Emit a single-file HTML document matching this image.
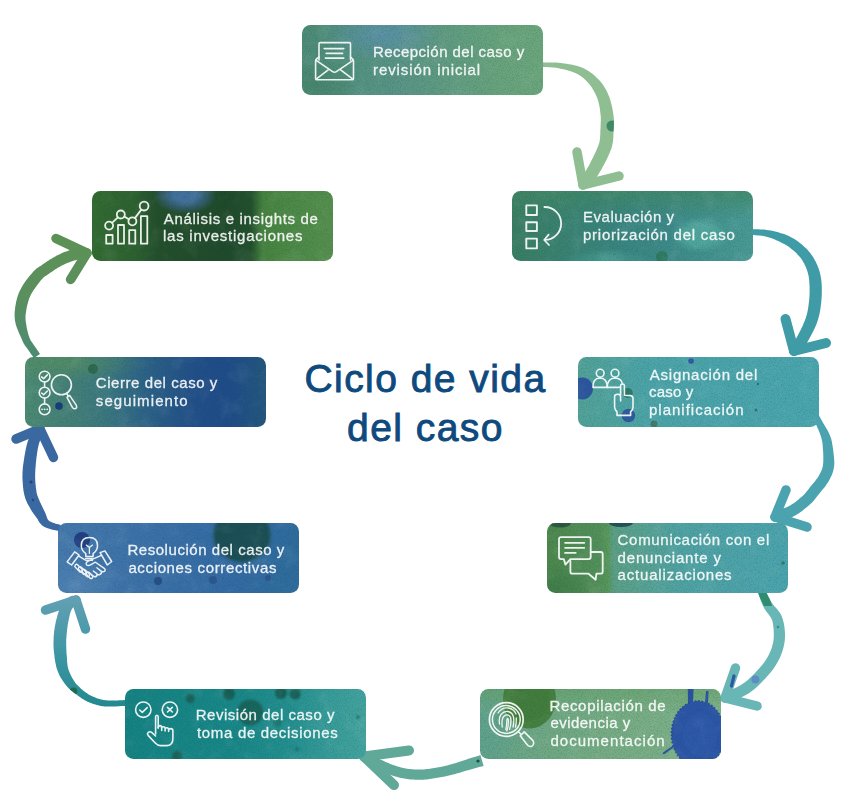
<!DOCTYPE html>
<html><head><meta charset="utf-8">
<style>
html,body{margin:0;padding:0;background:#fff;}
body{width:850px;height:802px;position:relative;overflow:hidden;font-family:"Liberation Sans",sans-serif;}
.box{position:absolute;width:241px;height:70px;border-radius:8.5px;overflow:hidden;}
.txt{position:absolute;z-index:3;left:71px;top:0;height:70px;display:flex;align-items:center;color:#fff;opacity:0.9;font-size:15px;line-height:17.6px;letter-spacing:0.45px;white-space:nowrap;-webkit-text-stroke:0.3px #fff;}
.ic{position:absolute;left:0;top:0;}
svg.bg{position:absolute;left:0;top:0;}
#title{position:absolute;left:0;width:851px;top:354px;text-align:center;color:#0e4a7d;font-size:39px;line-height:49px;letter-spacing:1.45px;-webkit-text-stroke:0.9px #0e4a7d;}

.b5 .txt{left:69.6px;top:-1px;}
.b7 .txt{left:69.6px;top:0.5px;}
.b4 .txt{left:70.4px;top:-0.5px;}
.b1 .txt{top:0.7px;}
.b9 .txt{top:1.4px;}
.b1{background:
 radial-gradient(ellipse 60px 26px at 80px 10px, rgba(92,145,172,.85), rgba(92,145,172,0)),
 radial-gradient(ellipse 45px 30px at 15px 62px, rgba(68,130,104,.6), rgba(68,130,104,0)),
 linear-gradient(90deg,#4d8b75 0%,#53917f 22%,#5a9585 42%,#619c80 62%,#68a37c 82%,#6ca67b 100%);}
.b2{background:
 radial-gradient(ellipse 30px 18px at 188px 44px, rgba(80,166,156,.95) 55%, rgba(80,166,156,0)),
 radial-gradient(ellipse 45px 10px at 95px 68px, rgba(72,160,148,.8), rgba(72,160,148,0)),
 linear-gradient(180deg, rgba(66,136,100,.75) 0%, rgba(66,136,100,0) 40%),
 linear-gradient(90deg,#3a7d62 0%,#3a8270 20%,#3a8580 45%,#3d8a88 65%,#4a9a95 100%);}
.b3{background:
 linear-gradient(90deg,#52a297 0%,#4ca4a8 30%,#4aa5ae 100%);}
.b4{background:
 radial-gradient(ellipse 40px 25px at 10px 65px, rgba(60,120,70,.7), rgba(60,120,70,0)),
 linear-gradient(90deg,#4d884c 0%,#53905a 22%,#579758 25%,#5b9f86 28%,#58a293 40%,#50a2a2 55%,#4ea3a8 75%,#4ca4ad 100%);}
.b5{background:
 radial-gradient(ellipse 30px 40px at 8px 45px, rgba(95,162,140,.95), rgba(95,162,140,0)),
 linear-gradient(180deg, rgba(100,160,105,.6) 0%, rgba(100,160,105,0) 35%),
 linear-gradient(90deg,#64a38a 0%,#70a882 30%,#78ad84 60%,#7fb18a 100%);}
.b6{background:
 linear-gradient(90deg,#168383 0%,#198787 45%,#25908f 70%,#389c98 85%,#44a39e 100%);}
.b7{background:
 radial-gradient(ellipse 40px 25px at 20px 62px, rgba(90,140,185,.6), rgba(90,140,185,0)),
 linear-gradient(90deg,#4679ad 0%,#3c71a8 35%,#346ba4 70%,#2e6c9c 100%);}
.b8{background:
 radial-gradient(ellipse 80px 20px at 40px 5px, rgba(88,145,95,.7), rgba(88,145,95,0)),
 linear-gradient(90deg,#4c8a72 0%,#447f78 20%,#3a7680 35%,#2d6286 50%,#224f88 70%,#1f4c88 85%,#24577d 100%);}
.b9{background:
 radial-gradient(ellipse 32px 19px at 93px 4px, rgba(66,112,155,1) 35%, rgba(60,100,140,.6) 70%, rgba(60,100,140,0) 100%),
 linear-gradient(90deg,#336b30 0%,#2d612f 18%,#244f2b 27%,#204a2a 55%,#23502c 66%,#47833f 71%,#4e8a47 85%,#568f4d 100%);}
svg.ov{position:absolute;left:0;top:0;}
</style></head><body>

<svg class="ov" width="850" height="802" viewBox="0 0 850 802">
<!--ARROWS-->
<defs><linearGradient id="g6" x1="0" y1="705" x2="0" y2="598" gradientUnits="userSpaceOnUse"><stop offset="0" stop-color="#23898f"/><stop offset="0.45" stop-color="#3c95a3"/><stop offset="1" stop-color="#62a0b3"/></linearGradient><linearGradient id="g8" x1="0" y1="358" x2="0" y2="240" gradientUnits="userSpaceOnUse"><stop offset="0" stop-color="#4b8a74"/><stop offset="0.5" stop-color="#5a8f5f"/><stop offset="1" stop-color="#5c9156"/></linearGradient></defs>
<path d="M540.9,66.7 542.8,66.9 544.7,67.0 546.6,67.1 548.5,67.2 550.3,67.3 552.2,67.5 554.0,67.6 555.9,67.8 557.7,68.1 559.6,68.5 561.5,68.9 563.5,69.3 565.5,69.8 567.5,70.3 569.5,70.9 571.5,71.5 573.4,72.2 575.2,72.9 576.8,73.7 578.3,74.5 579.8,75.4 581.1,76.3 582.4,77.3 583.7,78.3 584.9,79.4 586.0,80.5 587.1,81.7 588.2,82.8 589.2,84.1 590.2,85.3 591.2,86.6 592.0,87.8 592.8,89.2 593.6,90.5 594.4,91.9 595.1,93.3 595.8,94.7 596.4,96.2 597.0,97.6 597.6,99.1 598.1,100.6 598.5,102.2 598.9,103.8 599.3,105.5 599.6,107.2 599.9,109.0 600.1,110.7 600.3,112.5 600.5,114.2 600.7,115.7 600.8,117.2 600.8,118.6 600.8,119.9 600.8,121.2 600.7,122.6 600.7,123.9 600.6,125.3 600.6,126.7 600.5,128.2 600.4,129.7 600.3,131.3 600.3,132.8 600.3,134.2 600.2,135.6 600.1,136.9 600.0,138.2 599.9,139.5 599.7,140.7 599.5,142.0 599.1,143.2 598.7,144.5 598.2,146.0 597.6,147.5 596.9,149.1 596.2,150.8 595.4,152.5 594.6,154.2 593.8,155.8 593.0,157.5 592.2,159.1 591.5,160.6 590.7,162.1 590.0,163.5 589.2,165.0 588.4,166.4 587.6,167.8 586.9,169.1 586.1,170.3 585.4,171.5 584.7,172.6 584.1,173.6 583.6,174.4 583.1,175.2 582.6,175.9 582.0,176.5 581.5,177.2 581.0,177.9 580.4,178.7 579.8,179.5 579.2,180.3 588.8,187.7 589.4,187.0 590.0,186.3 590.5,185.6 591.1,184.9 591.7,184.2 592.4,183.4 593.0,182.5 593.8,181.6 594.5,180.5 595.3,179.4 596.0,178.2 596.8,176.9 597.7,175.6 598.5,174.2 599.4,172.7 600.3,171.2 601.2,169.7 602.1,168.1 602.9,166.5 603.8,164.9 604.6,163.3 605.5,161.7 606.4,160.0 607.3,158.2 608.1,156.3 609.0,154.5 609.8,152.6 610.6,150.6 611.3,148.7 611.9,146.8 612.3,144.9 612.7,143.0 613.0,141.2 613.2,139.5 613.3,137.8 613.4,136.2 613.4,134.7 613.5,133.2 613.5,131.7 613.6,130.3 613.7,128.9 613.8,127.4 613.8,125.9 613.9,124.4 613.9,122.8 613.9,121.2 613.9,119.5 613.7,117.8 613.6,116.1 613.3,114.3 613.1,112.5 612.7,110.6 612.4,108.7 612.0,106.8 611.5,104.8 611.0,102.8 610.5,100.7 609.9,98.8 609.2,96.8 608.4,94.9 607.6,93.1 606.8,91.3 605.9,89.6 604.9,87.9 603.9,86.2 602.8,84.6 601.6,83.1 600.4,81.5 599.1,80.1 597.8,78.7 596.4,77.4 595.0,76.1 593.6,74.8 592.1,73.6 590.5,72.4 588.9,71.3 587.2,70.2 585.4,69.3 583.6,68.3 581.7,67.5 579.7,66.8 577.6,66.1 575.4,65.6 573.3,65.0 571.1,64.6 568.9,64.2 566.7,63.8 564.6,63.5 562.5,63.2 560.4,62.9 558.4,62.7 556.4,62.6 554.4,62.5 552.5,62.4 550.5,62.4 548.6,62.4 546.7,62.4 544.9,62.4 543.0,62.3 541.1,62.3Z" fill="#8fbe92"/>
<clipPath id="ac0"><path d="M540.9,66.7 542.8,66.9 544.7,67.0 546.6,67.1 548.5,67.2 550.3,67.3 552.2,67.5 554.0,67.6 555.9,67.8 557.7,68.1 559.6,68.5 561.5,68.9 563.5,69.3 565.5,69.8 567.5,70.3 569.5,70.9 571.5,71.5 573.4,72.2 575.2,72.9 576.8,73.7 578.3,74.5 579.8,75.4 581.1,76.3 582.4,77.3 583.7,78.3 584.9,79.4 586.0,80.5 587.1,81.7 588.2,82.8 589.2,84.1 590.2,85.3 591.2,86.6 592.0,87.8 592.8,89.2 593.6,90.5 594.4,91.9 595.1,93.3 595.8,94.7 596.4,96.2 597.0,97.6 597.6,99.1 598.1,100.6 598.5,102.2 598.9,103.8 599.3,105.5 599.6,107.2 599.9,109.0 600.1,110.7 600.3,112.5 600.5,114.2 600.7,115.7 600.8,117.2 600.8,118.6 600.8,119.9 600.8,121.2 600.7,122.6 600.7,123.9 600.6,125.3 600.6,126.7 600.5,128.2 600.4,129.7 600.3,131.3 600.3,132.8 600.3,134.2 600.2,135.6 600.1,136.9 600.0,138.2 599.9,139.5 599.7,140.7 599.5,142.0 599.1,143.2 598.7,144.5 598.2,146.0 597.6,147.5 596.9,149.1 596.2,150.8 595.4,152.5 594.6,154.2 593.8,155.8 593.0,157.5 592.2,159.1 591.5,160.6 590.7,162.1 590.0,163.5 589.2,165.0 588.4,166.4 587.6,167.8 586.9,169.1 586.1,170.3 585.4,171.5 584.7,172.6 584.1,173.6 583.6,174.4 583.1,175.2 582.6,175.9 582.0,176.5 581.5,177.2 581.0,177.9 580.4,178.7 579.8,179.5 579.2,180.3 588.8,187.7 589.4,187.0 590.0,186.3 590.5,185.6 591.1,184.9 591.7,184.2 592.4,183.4 593.0,182.5 593.8,181.6 594.5,180.5 595.3,179.4 596.0,178.2 596.8,176.9 597.7,175.6 598.5,174.2 599.4,172.7 600.3,171.2 601.2,169.7 602.1,168.1 602.9,166.5 603.8,164.9 604.6,163.3 605.5,161.7 606.4,160.0 607.3,158.2 608.1,156.3 609.0,154.5 609.8,152.6 610.6,150.6 611.3,148.7 611.9,146.8 612.3,144.9 612.7,143.0 613.0,141.2 613.2,139.5 613.3,137.8 613.4,136.2 613.4,134.7 613.5,133.2 613.5,131.7 613.6,130.3 613.7,128.9 613.8,127.4 613.8,125.9 613.9,124.4 613.9,122.8 613.9,121.2 613.9,119.5 613.7,117.8 613.6,116.1 613.3,114.3 613.1,112.5 612.7,110.6 612.4,108.7 612.0,106.8 611.5,104.8 611.0,102.8 610.5,100.7 609.9,98.8 609.2,96.8 608.4,94.9 607.6,93.1 606.8,91.3 605.9,89.6 604.9,87.9 603.9,86.2 602.8,84.6 601.6,83.1 600.4,81.5 599.1,80.1 597.8,78.7 596.4,77.4 595.0,76.1 593.6,74.8 592.1,73.6 590.5,72.4 588.9,71.3 587.2,70.2 585.4,69.3 583.6,68.3 581.7,67.5 579.7,66.8 577.6,66.1 575.4,65.6 573.3,65.0 571.1,64.6 568.9,64.2 566.7,63.8 564.6,63.5 562.5,63.2 560.4,62.9 558.4,62.7 556.4,62.6 554.4,62.5 552.5,62.4 550.5,62.4 548.6,62.4 546.7,62.4 544.9,62.4 543.0,62.3 541.1,62.3Z"/></clipPath><g clip-path="url(#ac0)"><circle cx="612" cy="126" r="5.5" fill="#3f8a66"/><ellipse cx="596" cy="187" rx="9" ry="2.5" fill="#3f7d5c" transform="rotate(-12 596 187)"/></g>
<path d="M583,185 L577,152" stroke="#8fbe92" stroke-width="9.5" stroke-linecap="round" fill="none"/>
<path d="M583,185 L619,176" stroke="#8fbe92" stroke-width="9.5" stroke-linecap="round" fill="none"/>
<path d="M749.7,234.4 751.7,234.7 753.8,234.9 755.8,235.2 757.8,235.4 759.7,235.6 761.7,235.8 763.6,236.1 765.5,236.5 767.3,236.9 769.1,237.5 771.0,238.1 772.9,238.8 774.9,239.6 776.8,240.4 778.8,241.3 780.6,242.2 782.5,243.2 784.2,244.1 786.0,245.1 787.6,246.1 789.1,247.1 790.6,248.2 792.1,249.4 793.5,250.6 794.9,251.8 796.3,253.1 797.5,254.4 798.7,255.7 799.9,257.1 800.9,258.3 801.8,259.6 802.7,260.9 803.4,262.2 804.2,263.5 804.8,264.9 805.5,266.3 806.1,267.7 806.6,269.1 807.1,270.5 807.6,271.9 807.9,273.2 808.3,274.5 808.5,275.7 808.8,277.0 808.9,278.3 809.1,279.6 809.2,280.9 809.3,282.3 809.4,283.8 809.5,285.3 809.6,286.9 809.6,288.5 809.6,290.2 809.6,291.9 809.6,293.7 809.5,295.4 809.4,297.2 809.3,298.9 809.1,300.6 808.9,302.3 808.7,304.0 808.5,305.6 808.3,307.2 808.0,308.8 807.8,310.3 807.4,311.9 807.1,313.4 806.7,314.9 806.2,316.5 805.8,318.0 805.2,319.6 804.6,321.3 803.8,323.1 803.0,324.9 802.2,326.7 801.3,328.5 800.5,330.3 799.6,332.0 798.7,333.7 797.9,335.2 797.2,336.5 796.5,337.7 795.8,338.9 795.0,340.0 794.3,341.1 793.6,342.2 792.8,343.3 792.0,344.4 791.2,345.6 790.4,346.9 799.6,353.1 800.4,352.0 801.2,351.0 802.0,349.9 802.8,348.8 803.6,347.7 804.5,346.5 805.4,345.2 806.3,343.8 807.2,342.4 808.1,340.8 809.0,339.2 809.9,337.5 810.9,335.7 811.9,333.8 812.9,331.9 813.8,329.9 814.8,327.9 815.7,325.9 816.5,323.9 817.2,322.0 817.9,320.1 818.4,318.2 818.9,316.3 819.4,314.5 819.7,312.7 820.1,310.9 820.4,309.1 820.6,307.3 820.8,305.5 821.1,303.7 821.3,301.8 821.4,299.9 821.6,298.0 821.7,296.0 821.8,294.1 821.8,292.1 821.8,290.2 821.8,288.3 821.8,286.4 821.7,284.7 821.6,282.9 821.4,281.3 821.2,279.6 821.0,278.0 820.7,276.4 820.4,274.7 820.0,273.1 819.6,271.4 819.0,269.8 818.4,268.1 817.8,266.5 817.1,264.8 816.4,263.2 815.6,261.5 814.7,259.9 813.8,258.2 812.7,256.5 811.6,254.9 810.4,253.2 809.1,251.7 807.7,250.1 806.3,248.6 804.8,247.2 803.2,245.7 801.6,244.3 799.8,242.9 798.1,241.6 796.2,240.3 794.4,239.1 792.4,237.9 790.5,236.9 788.4,235.8 786.3,234.9 784.1,234.1 781.9,233.4 779.6,232.7 777.4,232.1 775.2,231.5 773.0,231.0 770.9,230.5 768.7,230.2 766.5,229.9 764.4,229.6 762.3,229.5 760.3,229.4 758.2,229.3 756.2,229.3 754.2,229.2 752.3,229.1 750.3,229.0Z" fill="#3f9ba6"/>
<path d="M794,351 L785.5,319" stroke="#3f9ba6" stroke-width="10" stroke-linecap="round" fill="none"/>
<path d="M794,351 L826,343" stroke="#3f9ba6" stroke-width="10" stroke-linecap="round" fill="none"/>
<path d="M812.2,416.5 812.6,417.5 813.1,418.5 813.6,419.6 814.1,420.6 814.6,421.6 815.1,422.6 815.6,423.6 816.0,424.6 816.5,425.6 817.0,426.6 817.4,427.7 817.9,428.7 818.4,429.8 818.8,430.8 819.2,431.8 819.6,432.8 820.0,433.7 820.3,434.7 820.6,435.6 820.9,436.5 821.2,437.5 821.4,438.3 821.7,439.1 821.8,439.9 822.0,440.6 822.2,441.3 822.3,442.2 822.4,443.1 822.6,444.3 822.7,445.6 822.8,447.2 822.9,449.0 823.1,451.0 823.2,453.1 823.3,455.2 823.3,457.3 823.3,459.4 823.3,461.3 823.2,463.0 823.0,464.4 822.9,465.7 822.6,466.9 822.4,468.0 822.1,469.0 821.7,470.0 821.3,471.0 820.8,472.0 820.3,473.0 819.7,474.1 819.1,475.3 818.5,476.3 817.8,477.4 817.1,478.5 816.2,479.6 815.4,480.7 814.4,481.9 813.5,483.0 812.5,484.2 811.6,485.3 810.6,486.5 809.7,487.6 808.9,488.7 808.1,489.7 807.4,490.7 806.6,491.6 805.9,492.5 805.2,493.3 804.4,494.2 803.6,495.0 802.7,495.9 801.7,496.8 800.5,497.8 799.3,498.8 798.0,499.9 796.7,500.9 795.4,501.9 794.1,502.9 792.8,503.7 791.6,504.5 790.6,505.2 789.6,505.8 788.6,506.3 787.7,506.8 786.8,507.2 785.8,507.6 784.9,507.9 784.0,508.3 783.0,508.6 782.1,508.9 781.2,509.2 780.5,509.4 780.0,509.6 779.4,509.7 778.9,509.8 778.3,509.9 777.7,510.0 777.1,510.1 776.4,510.2 775.7,510.4 774.9,510.5 777.1,521.5 777.7,521.4 778.3,521.3 778.9,521.2 779.5,521.1 780.2,521.0 781.0,520.8 781.9,520.6 782.8,520.4 783.8,520.1 784.8,519.8 785.7,519.5 786.6,519.2 787.7,518.8 788.8,518.4 789.9,518.0 791.2,517.5 792.4,516.9 793.7,516.3 795.1,515.6 796.4,514.8 797.8,513.9 799.2,513.0 800.6,512.0 802.1,510.9 803.5,509.8 805.0,508.6 806.4,507.5 807.8,506.3 809.1,505.2 810.3,504.1 811.5,503.0 812.6,501.9 813.6,500.8 814.5,499.7 815.4,498.6 816.2,497.6 817.0,496.6 817.8,495.6 818.6,494.5 819.4,493.5 820.2,492.4 821.2,491.3 822.1,490.1 823.1,488.9 824.1,487.7 825.2,486.4 826.2,485.0 827.1,483.6 828.1,482.2 828.9,480.7 829.6,479.4 830.3,478.1 830.9,476.8 831.6,475.5 832.2,474.0 832.7,472.5 833.2,470.9 833.6,469.2 833.9,467.5 834.2,465.6 834.3,463.5 834.3,461.3 834.1,459.0 834.0,456.7 833.7,454.4 833.4,452.2 833.2,450.0 832.9,447.9 832.6,446.1 832.3,444.4 832.1,442.9 831.8,441.6 831.5,440.3 831.3,439.2 831.0,438.2 830.6,437.2 830.3,436.2 829.9,435.3 829.5,434.4 829.1,433.5 828.6,432.4 828.0,431.3 827.5,430.3 826.9,429.2 826.3,428.2 825.7,427.2 825.1,426.2 824.5,425.3 824.0,424.3 823.4,423.4 822.9,422.4 822.3,421.4 821.8,420.4 821.2,419.4 820.7,418.4 820.1,417.4 819.5,416.4 819.0,415.5 818.4,414.5 817.8,413.5Z" fill="#4aa3af"/>
<path d="M775,517 L786,490" stroke="#4aa3af" stroke-width="9.5" stroke-linecap="round" fill="none"/>
<path d="M775,517 L807,527" stroke="#4aa3af" stroke-width="9.5" stroke-linecap="round" fill="none"/>
<path d="M757.6,591.5 758.2,593.0 758.7,594.5 759.2,596.1 759.8,597.7 760.3,599.2 760.9,600.9 761.5,602.5 762.2,604.1 762.9,605.7 763.7,607.3 764.6,609.0 765.7,610.5 766.7,611.9 767.8,613.3 768.7,614.5 769.6,615.7 770.4,616.8 771.1,617.9 771.6,618.9 772.0,619.9 772.4,621.1 772.7,622.5 773.0,624.0 773.2,625.5 773.4,627.1 773.6,628.7 773.7,630.3 773.7,632.0 773.8,633.5 773.8,635.0 773.8,636.4 773.7,637.8 773.6,639.1 773.5,640.4 773.3,641.7 773.0,643.0 772.7,644.3 772.4,645.5 772.0,646.9 771.6,648.2 771.1,649.5 770.6,650.9 770.0,652.2 769.4,653.6 768.7,655.0 768.0,656.3 767.2,657.7 766.4,659.0 765.5,660.4 764.6,661.8 763.6,663.2 762.5,664.6 761.3,666.1 760.0,667.6 758.6,669.1 757.3,670.6 755.9,672.1 754.6,673.5 753.3,674.8 752.1,676.0 750.9,677.1 749.9,678.1 748.8,679.1 747.9,679.9 746.9,680.7 745.9,681.5 745.0,682.2 744.0,682.9 743.0,683.6 742.0,684.3 740.9,684.9 739.9,685.6 738.7,686.2 737.5,686.8 736.3,687.4 735.1,687.9 734.0,688.4 732.8,689.0 731.7,689.4 730.7,689.9 729.9,690.2 729.2,690.5 728.6,690.7 728.0,691.0 727.5,691.1 726.9,691.3 726.3,691.5 725.6,691.7 724.9,692.0 724.2,692.2 727.8,702.8 728.5,702.6 729.0,702.4 729.6,702.2 730.2,702.0 730.9,701.8 731.7,701.5 732.5,701.3 733.3,700.9 734.3,700.6 735.3,700.1 736.3,699.7 737.4,699.2 738.6,698.7 739.8,698.1 741.2,697.5 742.5,696.8 743.9,696.1 745.3,695.3 746.7,694.5 748.0,693.7 749.3,692.9 750.5,692.1 751.6,691.2 752.8,690.3 754.0,689.4 755.1,688.4 756.3,687.4 757.5,686.3 758.7,685.2 759.9,684.0 761.2,682.7 762.6,681.3 764.0,679.8 765.5,678.2 767.0,676.6 768.4,675.0 769.9,673.3 771.3,671.6 772.6,669.9 773.8,668.2 774.9,666.6 775.9,665.0 776.9,663.3 777.8,661.7 778.7,660.0 779.5,658.4 780.3,656.8 781.0,655.1 781.6,653.5 782.2,651.8 782.7,650.2 783.2,648.5 783.6,646.9 784.0,645.2 784.3,643.6 784.6,641.9 784.8,640.2 784.9,638.5 785.0,636.7 785.0,635.0 785.0,633.2 784.9,631.4 784.7,629.5 784.5,627.6 784.2,625.6 783.9,623.7 783.4,621.8 782.9,619.8 782.3,618.0 781.6,616.1 780.7,614.2 779.7,612.5 778.5,610.9 777.4,609.5 776.3,608.2 775.2,607.0 774.2,605.9 773.3,604.8 772.5,603.8 771.7,602.7 771.0,601.5 770.2,600.2 769.5,598.8 768.8,597.4 768.1,596.0 767.3,594.5 766.6,593.0 765.9,591.5 765.1,590.0 764.4,588.5Z" fill="#69b6b7"/>
<clipPath id="ac3"><path d="M757.6,591.5 758.2,593.0 758.7,594.5 759.2,596.1 759.8,597.7 760.3,599.2 760.9,600.9 761.5,602.5 762.2,604.1 762.9,605.7 763.7,607.3 764.6,609.0 765.7,610.5 766.7,611.9 767.8,613.3 768.7,614.5 769.6,615.7 770.4,616.8 771.1,617.9 771.6,618.9 772.0,619.9 772.4,621.1 772.7,622.5 773.0,624.0 773.2,625.5 773.4,627.1 773.6,628.7 773.7,630.3 773.7,632.0 773.8,633.5 773.8,635.0 773.8,636.4 773.7,637.8 773.6,639.1 773.5,640.4 773.3,641.7 773.0,643.0 772.7,644.3 772.4,645.5 772.0,646.9 771.6,648.2 771.1,649.5 770.6,650.9 770.0,652.2 769.4,653.6 768.7,655.0 768.0,656.3 767.2,657.7 766.4,659.0 765.5,660.4 764.6,661.8 763.6,663.2 762.5,664.6 761.3,666.1 760.0,667.6 758.6,669.1 757.3,670.6 755.9,672.1 754.6,673.5 753.3,674.8 752.1,676.0 750.9,677.1 749.9,678.1 748.8,679.1 747.9,679.9 746.9,680.7 745.9,681.5 745.0,682.2 744.0,682.9 743.0,683.6 742.0,684.3 740.9,684.9 739.9,685.6 738.7,686.2 737.5,686.8 736.3,687.4 735.1,687.9 734.0,688.4 732.8,689.0 731.7,689.4 730.7,689.9 729.9,690.2 729.2,690.5 728.6,690.7 728.0,691.0 727.5,691.1 726.9,691.3 726.3,691.5 725.6,691.7 724.9,692.0 724.2,692.2 727.8,702.8 728.5,702.6 729.0,702.4 729.6,702.2 730.2,702.0 730.9,701.8 731.7,701.5 732.5,701.3 733.3,700.9 734.3,700.6 735.3,700.1 736.3,699.7 737.4,699.2 738.6,698.7 739.8,698.1 741.2,697.5 742.5,696.8 743.9,696.1 745.3,695.3 746.7,694.5 748.0,693.7 749.3,692.9 750.5,692.1 751.6,691.2 752.8,690.3 754.0,689.4 755.1,688.4 756.3,687.4 757.5,686.3 758.7,685.2 759.9,684.0 761.2,682.7 762.6,681.3 764.0,679.8 765.5,678.2 767.0,676.6 768.4,675.0 769.9,673.3 771.3,671.6 772.6,669.9 773.8,668.2 774.9,666.6 775.9,665.0 776.9,663.3 777.8,661.7 778.7,660.0 779.5,658.4 780.3,656.8 781.0,655.1 781.6,653.5 782.2,651.8 782.7,650.2 783.2,648.5 783.6,646.9 784.0,645.2 784.3,643.6 784.6,641.9 784.8,640.2 784.9,638.5 785.0,636.7 785.0,635.0 785.0,633.2 784.9,631.4 784.7,629.5 784.5,627.6 784.2,625.6 783.9,623.7 783.4,621.8 782.9,619.8 782.3,618.0 781.6,616.1 780.7,614.2 779.7,612.5 778.5,610.9 777.4,609.5 776.3,608.2 775.2,607.0 774.2,605.9 773.3,604.8 772.5,603.8 771.7,602.7 771.0,601.5 770.2,600.2 769.5,598.8 768.8,597.4 768.1,596.0 767.3,594.5 766.6,593.0 765.9,591.5 765.1,590.0 764.4,588.5Z"/></clipPath><g clip-path="url(#ac3)"><path d="M756,590 L768,590 L772,606 L764,606 Z" fill="#2f8c70"/><circle cx="755.4" cy="679.6" r="4" fill="#5b8fc4"/><circle cx="778" cy="627" r="1.3" fill="#3a8a90"/></g>
<path d="M725,698 L735.5,668" stroke="#69b6b7" stroke-width="9.5" stroke-linecap="round" fill="none"/>
<path d="M725,698 L757,706" stroke="#69b6b7" stroke-width="9.5" stroke-linecap="round" fill="none"/>
<path d="M480.4,755.1 478.7,755.7 477.0,756.2 475.3,756.7 473.6,757.3 471.8,757.8 470.1,758.3 468.4,758.8 466.7,759.4 465.1,759.9 463.5,760.4 461.9,760.9 460.3,761.4 458.8,761.9 457.3,762.4 455.8,762.9 454.4,763.4 453.0,763.8 451.6,764.2 450.2,764.6 448.7,765.0 447.3,765.4 445.9,765.7 444.4,766.1 443.0,766.4 441.5,766.7 440.1,767.0 438.6,767.2 437.1,767.5 435.7,767.7 434.2,768.0 432.7,768.2 431.2,768.4 429.8,768.7 428.3,768.9 426.9,769.1 425.4,769.2 424.0,769.4 422.6,769.5 421.3,769.6 419.9,769.6 418.5,769.6 417.1,769.6 415.7,769.5 414.2,769.5 412.8,769.3 411.4,769.2 409.9,769.1 408.6,768.9 407.2,768.7 405.8,768.5 404.6,768.2 403.3,768.0 402.1,767.7 401.0,767.4 399.8,767.1 398.6,766.8 397.4,766.4 396.2,766.1 395.0,765.6 393.7,765.2 392.4,764.7 391.1,764.2 389.8,763.7 388.4,763.1 387.0,762.5 385.6,761.9 384.2,761.2 382.8,760.6 381.5,760.0 380.2,759.4 378.9,758.8 377.7,758.2 376.5,757.6 375.4,757.0 374.2,756.5 373.0,755.9 371.9,755.3 370.7,754.7 369.5,754.1 368.3,753.4 363.7,762.6 364.9,763.1 366.0,763.7 367.2,764.3 368.4,764.9 369.6,765.5 370.8,766.2 372.0,766.8 373.2,767.4 374.5,768.0 375.8,768.6 377.2,769.2 378.6,769.9 380.0,770.5 381.4,771.2 382.9,771.8 384.4,772.5 385.9,773.1 387.4,773.7 388.8,774.3 390.3,774.8 391.7,775.3 393.0,775.7 394.4,776.2 395.7,776.6 397.1,777.0 398.4,777.3 399.8,777.7 401.2,778.0 402.7,778.3 404.2,778.5 405.7,778.8 407.2,779.0 408.8,779.2 410.3,779.4 412.0,779.5 413.6,779.6 415.2,779.7 416.8,779.8 418.5,779.8 420.1,779.8 421.7,779.7 423.4,779.7 425.0,779.5 426.6,779.4 428.1,779.2 429.7,779.0 431.2,778.7 432.8,778.5 434.3,778.3 435.8,778.0 437.3,777.8 438.9,777.5 440.4,777.3 441.9,777.0 443.5,776.7 445.0,776.4 446.6,776.0 448.1,775.7 449.7,775.3 451.3,775.0 452.8,774.6 454.4,774.2 455.9,773.7 457.4,773.3 458.9,772.9 460.4,772.4 461.9,772.0 463.5,771.5 465.0,771.1 466.5,770.6 468.1,770.2 469.8,769.7 471.5,769.2 473.2,768.8 474.9,768.3 476.7,767.8 478.4,767.3 480.1,766.8 481.9,766.4 483.6,765.9Z" fill="#60a897"/>
<clipPath id="ac4"><path d="M480.4,755.1 478.7,755.7 477.0,756.2 475.3,756.7 473.6,757.3 471.8,757.8 470.1,758.3 468.4,758.8 466.7,759.4 465.1,759.9 463.5,760.4 461.9,760.9 460.3,761.4 458.8,761.9 457.3,762.4 455.8,762.9 454.4,763.4 453.0,763.8 451.6,764.2 450.2,764.6 448.7,765.0 447.3,765.4 445.9,765.7 444.4,766.1 443.0,766.4 441.5,766.7 440.1,767.0 438.6,767.2 437.1,767.5 435.7,767.7 434.2,768.0 432.7,768.2 431.2,768.4 429.8,768.7 428.3,768.9 426.9,769.1 425.4,769.2 424.0,769.4 422.6,769.5 421.3,769.6 419.9,769.6 418.5,769.6 417.1,769.6 415.7,769.5 414.2,769.5 412.8,769.3 411.4,769.2 409.9,769.1 408.6,768.9 407.2,768.7 405.8,768.5 404.6,768.2 403.3,768.0 402.1,767.7 401.0,767.4 399.8,767.1 398.6,766.8 397.4,766.4 396.2,766.1 395.0,765.6 393.7,765.2 392.4,764.7 391.1,764.2 389.8,763.7 388.4,763.1 387.0,762.5 385.6,761.9 384.2,761.2 382.8,760.6 381.5,760.0 380.2,759.4 378.9,758.8 377.7,758.2 376.5,757.6 375.4,757.0 374.2,756.5 373.0,755.9 371.9,755.3 370.7,754.7 369.5,754.1 368.3,753.4 363.7,762.6 364.9,763.1 366.0,763.7 367.2,764.3 368.4,764.9 369.6,765.5 370.8,766.2 372.0,766.8 373.2,767.4 374.5,768.0 375.8,768.6 377.2,769.2 378.6,769.9 380.0,770.5 381.4,771.2 382.9,771.8 384.4,772.5 385.9,773.1 387.4,773.7 388.8,774.3 390.3,774.8 391.7,775.3 393.0,775.7 394.4,776.2 395.7,776.6 397.1,777.0 398.4,777.3 399.8,777.7 401.2,778.0 402.7,778.3 404.2,778.5 405.7,778.8 407.2,779.0 408.8,779.2 410.3,779.4 412.0,779.5 413.6,779.6 415.2,779.7 416.8,779.8 418.5,779.8 420.1,779.8 421.7,779.7 423.4,779.7 425.0,779.5 426.6,779.4 428.1,779.2 429.7,779.0 431.2,778.7 432.8,778.5 434.3,778.3 435.8,778.0 437.3,777.8 438.9,777.5 440.4,777.3 441.9,777.0 443.5,776.7 445.0,776.4 446.6,776.0 448.1,775.7 449.7,775.3 451.3,775.0 452.8,774.6 454.4,774.2 455.9,773.7 457.4,773.3 458.9,772.9 460.4,772.4 461.9,772.0 463.5,771.5 465.0,771.1 466.5,770.6 468.1,770.2 469.8,769.7 471.5,769.2 473.2,768.8 474.9,768.3 476.7,767.8 478.4,767.3 480.1,766.8 481.9,766.4 483.6,765.9Z"/></clipPath><g clip-path="url(#ac4)"><circle cx="478" cy="761" r="1.6" fill="#1d4f45"/></g>
<path d="M364,756.5 L409,750.5" stroke="#60a897" stroke-width="10" stroke-linecap="round" fill="none"/>
<path d="M364,756.5 L394,785" stroke="#60a897" stroke-width="10" stroke-linecap="round" fill="none"/>
<path d="M125.9,700.1 124.3,700.1 122.6,700.2 120.9,700.3 119.2,700.3 117.5,700.4 115.9,700.5 114.3,700.5 112.8,700.5 111.4,700.5 110.0,700.5 108.8,700.4 107.7,700.4 106.7,700.3 105.8,700.3 105.0,700.2 104.2,700.1 103.4,700.0 102.6,699.8 101.7,699.6 100.8,699.4 99.7,699.1 98.6,698.7 97.5,698.4 96.3,697.9 95.2,697.5 94.0,697.0 92.8,696.5 91.7,696.0 90.6,695.5 89.6,694.9 88.6,694.4 87.7,693.8 86.7,693.1 85.8,692.5 84.8,691.8 83.9,691.1 83.0,690.4 82.1,689.6 81.2,688.9 80.4,688.1 79.6,687.3 78.8,686.6 78.0,685.8 77.3,685.1 76.7,684.4 76.0,683.7 75.4,682.9 74.8,682.1 74.3,681.3 73.7,680.4 73.1,679.3 72.4,678.2 71.7,677.0 71.1,675.8 70.5,674.5 69.9,673.3 69.4,672.0 68.9,670.7 68.5,669.5 68.1,668.3 67.8,667.1 67.6,665.8 67.4,664.5 67.3,663.2 67.1,661.8 67.1,660.4 67.0,658.9 66.9,657.4 66.8,655.9 66.6,654.4 66.5,652.9 66.4,651.5 66.4,650.1 66.3,648.6 66.3,647.2 66.2,645.8 66.2,644.4 66.2,643.0 66.2,641.6 66.2,640.2 66.3,638.8 66.4,637.4 66.5,636.0 66.6,634.6 66.7,633.2 66.9,631.8 67.0,630.3 67.2,628.9 67.4,627.5 67.6,626.1 67.8,624.6 68.1,623.1 68.4,621.6 68.7,620.0 69.0,618.4 69.3,616.9 69.6,615.5 70.0,614.2 70.3,613.0 70.6,612.0 70.9,611.2 71.2,610.6 71.4,610.0 71.7,609.4 72.0,609.0 72.3,608.5 72.6,608.1 73.0,607.7 73.4,607.2 73.7,606.8 74.0,606.5 74.1,606.4 74.3,606.2 74.5,606.1 74.8,605.9 75.2,605.7 75.7,605.5 76.3,605.2 76.9,604.8 77.5,604.4 72.5,595.6 72.1,595.8 71.7,595.9 71.3,596.1 70.8,596.3 70.1,596.6 69.4,596.9 68.7,597.4 67.8,597.9 67.0,598.5 66.3,599.2 65.6,599.8 65.1,600.4 64.5,601.0 63.8,601.7 63.2,602.5 62.5,603.4 61.8,604.4 61.2,605.5 60.6,606.7 60.0,608.0 59.5,609.3 58.9,610.8 58.4,612.3 57.9,613.9 57.4,615.6 57.0,617.3 56.5,618.9 56.1,620.6 55.7,622.3 55.4,623.9 55.1,625.5 54.8,627.1 54.6,628.7 54.3,630.2 54.1,631.8 54.0,633.4 53.8,635.0 53.7,636.6 53.6,638.2 53.6,639.8 53.5,641.4 53.5,643.0 53.5,644.6 53.5,646.2 53.6,647.8 53.7,649.4 53.9,650.9 54.0,652.5 54.2,654.1 54.4,655.6 54.5,657.1 54.7,658.7 55.0,660.2 55.2,661.8 55.6,663.5 55.9,665.1 56.3,666.8 56.7,668.4 57.3,670.1 57.9,671.7 58.6,673.3 59.3,674.9 60.1,676.4 60.9,677.9 61.8,679.3 62.7,680.7 63.6,682.1 64.5,683.3 65.4,684.5 66.3,685.6 67.2,686.7 68.2,687.7 69.1,688.7 70.0,689.5 71.0,690.4 71.9,691.1 72.8,691.8 73.7,692.5 74.7,693.2 75.6,693.9 76.6,694.6 77.6,695.4 78.6,696.1 79.6,696.9 80.7,697.6 81.7,698.4 82.9,699.1 84.0,699.8 85.2,700.4 86.4,701.1 87.6,701.7 88.9,702.2 90.2,702.8 91.5,703.3 92.8,703.8 94.2,704.2 95.5,704.6 96.8,705.0 98.0,705.3 99.2,705.6 100.4,705.9 101.4,706.1 102.5,706.2 103.5,706.3 104.5,706.4 105.5,706.5 106.5,706.5 107.6,706.5 108.7,706.5 110.0,706.5 111.4,706.5 112.9,706.5 114.4,706.4 116.1,706.4 117.7,706.3 119.4,706.2 121.1,706.1 122.8,706.1 124.5,706.0 126.1,705.9Z" fill="url(#g6)"/>
<clipPath id="ac5"><path d="M125.9,700.1 124.3,700.1 122.6,700.2 120.9,700.3 119.2,700.3 117.5,700.4 115.9,700.5 114.3,700.5 112.8,700.5 111.4,700.5 110.0,700.5 108.8,700.4 107.7,700.4 106.7,700.3 105.8,700.3 105.0,700.2 104.2,700.1 103.4,700.0 102.6,699.8 101.7,699.6 100.8,699.4 99.7,699.1 98.6,698.7 97.5,698.4 96.3,697.9 95.2,697.5 94.0,697.0 92.8,696.5 91.7,696.0 90.6,695.5 89.6,694.9 88.6,694.4 87.7,693.8 86.7,693.1 85.8,692.5 84.8,691.8 83.9,691.1 83.0,690.4 82.1,689.6 81.2,688.9 80.4,688.1 79.6,687.3 78.8,686.6 78.0,685.8 77.3,685.1 76.7,684.4 76.0,683.7 75.4,682.9 74.8,682.1 74.3,681.3 73.7,680.4 73.1,679.3 72.4,678.2 71.7,677.0 71.1,675.8 70.5,674.5 69.9,673.3 69.4,672.0 68.9,670.7 68.5,669.5 68.1,668.3 67.8,667.1 67.6,665.8 67.4,664.5 67.3,663.2 67.1,661.8 67.1,660.4 67.0,658.9 66.9,657.4 66.8,655.9 66.6,654.4 66.5,652.9 66.4,651.5 66.4,650.1 66.3,648.6 66.3,647.2 66.2,645.8 66.2,644.4 66.2,643.0 66.2,641.6 66.2,640.2 66.3,638.8 66.4,637.4 66.5,636.0 66.6,634.6 66.7,633.2 66.9,631.8 67.0,630.3 67.2,628.9 67.4,627.5 67.6,626.1 67.8,624.6 68.1,623.1 68.4,621.6 68.7,620.0 69.0,618.4 69.3,616.9 69.6,615.5 70.0,614.2 70.3,613.0 70.6,612.0 70.9,611.2 71.2,610.6 71.4,610.0 71.7,609.4 72.0,609.0 72.3,608.5 72.6,608.1 73.0,607.7 73.4,607.2 73.7,606.8 74.0,606.5 74.1,606.4 74.3,606.2 74.5,606.1 74.8,605.9 75.2,605.7 75.7,605.5 76.3,605.2 76.9,604.8 77.5,604.4 72.5,595.6 72.1,595.8 71.7,595.9 71.3,596.1 70.8,596.3 70.1,596.6 69.4,596.9 68.7,597.4 67.8,597.9 67.0,598.5 66.3,599.2 65.6,599.8 65.1,600.4 64.5,601.0 63.8,601.7 63.2,602.5 62.5,603.4 61.8,604.4 61.2,605.5 60.6,606.7 60.0,608.0 59.5,609.3 58.9,610.8 58.4,612.3 57.9,613.9 57.4,615.6 57.0,617.3 56.5,618.9 56.1,620.6 55.7,622.3 55.4,623.9 55.1,625.5 54.8,627.1 54.6,628.7 54.3,630.2 54.1,631.8 54.0,633.4 53.8,635.0 53.7,636.6 53.6,638.2 53.6,639.8 53.5,641.4 53.5,643.0 53.5,644.6 53.5,646.2 53.6,647.8 53.7,649.4 53.9,650.9 54.0,652.5 54.2,654.1 54.4,655.6 54.5,657.1 54.7,658.7 55.0,660.2 55.2,661.8 55.6,663.5 55.9,665.1 56.3,666.8 56.7,668.4 57.3,670.1 57.9,671.7 58.6,673.3 59.3,674.9 60.1,676.4 60.9,677.9 61.8,679.3 62.7,680.7 63.6,682.1 64.5,683.3 65.4,684.5 66.3,685.6 67.2,686.7 68.2,687.7 69.1,688.7 70.0,689.5 71.0,690.4 71.9,691.1 72.8,691.8 73.7,692.5 74.7,693.2 75.6,693.9 76.6,694.6 77.6,695.4 78.6,696.1 79.6,696.9 80.7,697.6 81.7,698.4 82.9,699.1 84.0,699.8 85.2,700.4 86.4,701.1 87.6,701.7 88.9,702.2 90.2,702.8 91.5,703.3 92.8,703.8 94.2,704.2 95.5,704.6 96.8,705.0 98.0,705.3 99.2,705.6 100.4,705.9 101.4,706.1 102.5,706.2 103.5,706.3 104.5,706.4 105.5,706.5 106.5,706.5 107.6,706.5 108.7,706.5 110.0,706.5 111.4,706.5 112.9,706.5 114.4,706.4 116.1,706.4 117.7,706.3 119.4,706.2 121.1,706.1 122.8,706.1 124.5,706.0 126.1,705.9Z"/></clipPath><g clip-path="url(#ac5)"><circle cx="73.5" cy="691.3" r="3.8" fill="#1f6a52"/></g>
<path d="M76,600 L45.5,610" stroke="url(#g6)" stroke-width="9.5" stroke-linecap="round" fill="none"/>
<path d="M76,600 L85.5,629" stroke="url(#g6)" stroke-width="9.5" stroke-linecap="round" fill="none"/>
<path d="M60.7,524.9 59.9,524.7 59.1,524.5 58.3,524.3 57.4,524.1 56.7,523.9 55.9,523.7 55.2,523.5 54.5,523.3 53.8,523.0 53.1,522.8 52.4,522.5 51.7,522.2 51.0,521.9 50.3,521.6 49.8,521.3 49.2,520.9 48.8,520.6 48.4,520.2 48.1,519.9 47.9,519.6 47.7,519.2 47.5,518.9 47.3,518.4 47.1,517.8 46.8,517.1 46.6,516.4 46.3,515.5 45.9,514.6 45.5,513.6 45.1,512.6 44.6,511.5 44.1,510.5 43.6,509.5 43.1,508.4 42.6,507.4 42.1,506.3 41.6,505.3 41.1,504.3 40.7,503.3 40.2,502.4 39.8,501.4 39.4,500.4 39.0,499.5 38.6,498.6 38.2,497.7 37.9,496.9 37.6,496.0 37.3,495.2 37.1,494.3 36.8,493.4 36.6,492.4 36.4,491.4 36.3,490.2 36.1,489.0 35.9,487.8 35.8,486.6 35.7,485.3 35.5,484.0 35.4,482.8 35.3,481.6 35.3,480.4 35.2,479.3 35.2,478.2 35.1,477.1 35.1,476.0 35.2,474.9 35.2,473.8 35.2,472.7 35.3,471.6 35.3,470.4 35.4,469.2 35.5,468.0 35.6,466.8 35.7,465.5 35.8,464.2 35.9,463.0 36.0,461.7 36.2,460.4 36.3,459.1 36.5,457.9 36.6,456.6 36.8,455.4 37.0,454.2 37.1,453.0 37.3,451.8 37.5,450.6 37.7,449.5 37.8,448.4 38.1,447.4 38.3,446.5 38.5,445.5 38.7,444.7 39.0,443.8 39.2,442.9 39.5,442.1 39.8,441.3 40.1,440.5 40.4,439.8 40.7,439.0 41.0,438.3 41.3,437.7 41.5,437.2 41.8,436.7 42.1,436.2 42.3,435.7 42.7,435.2 43.0,434.6 43.4,434.0 43.7,433.4 44.1,432.7 34.9,427.3 34.6,427.8 34.2,428.3 33.9,428.8 33.5,429.3 33.1,429.9 32.7,430.6 32.3,431.3 31.9,432.0 31.4,432.8 31.0,433.7 30.6,434.5 30.2,435.4 29.8,436.2 29.4,437.2 29.0,438.1 28.6,439.1 28.2,440.2 27.8,441.3 27.5,442.4 27.1,443.5 26.8,444.7 26.5,446.0 26.2,447.2 25.9,448.5 25.7,449.7 25.4,451.0 25.2,452.3 25.0,453.6 24.7,454.9 24.5,456.1 24.3,457.4 24.1,458.7 23.9,460.0 23.7,461.4 23.5,462.8 23.3,464.1 23.1,465.5 22.9,466.9 22.8,468.3 22.7,469.6 22.6,470.9 22.5,472.2 22.5,473.5 22.5,474.7 22.4,476.0 22.4,477.2 22.5,478.5 22.5,479.8 22.6,481.1 22.7,482.4 22.8,483.8 22.9,485.1 23.0,486.6 23.2,488.0 23.3,489.4 23.5,490.9 23.8,492.3 24.1,493.8 24.4,495.2 24.8,496.6 25.2,497.9 25.6,499.2 26.1,500.4 26.6,501.6 27.1,502.7 27.6,503.7 28.2,504.7 28.7,505.7 29.2,506.6 29.8,507.6 30.4,508.7 31.0,509.8 31.7,510.9 32.4,511.9 33.1,513.0 33.8,513.9 34.5,514.9 35.2,515.8 35.8,516.7 36.3,517.4 36.8,518.1 37.3,518.8 37.8,519.6 38.2,520.4 38.7,521.2 39.2,522.0 39.8,522.9 40.5,523.7 41.3,524.6 42.1,525.4 43.1,526.1 44.0,526.7 45.0,527.2 45.9,527.6 46.8,527.9 47.7,528.2 48.5,528.4 49.3,528.7 50.1,528.9 50.9,529.2 51.7,529.5 52.6,529.7 53.5,529.9 54.4,530.1 55.2,530.3 56.1,530.5 56.9,530.6 57.7,530.8 58.5,530.9 59.3,531.1Z" fill="#3a69a1"/>
<clipPath id="ac6"><path d="M60.7,524.9 59.9,524.7 59.1,524.5 58.3,524.3 57.4,524.1 56.7,523.9 55.9,523.7 55.2,523.5 54.5,523.3 53.8,523.0 53.1,522.8 52.4,522.5 51.7,522.2 51.0,521.9 50.3,521.6 49.8,521.3 49.2,520.9 48.8,520.6 48.4,520.2 48.1,519.9 47.9,519.6 47.7,519.2 47.5,518.9 47.3,518.4 47.1,517.8 46.8,517.1 46.6,516.4 46.3,515.5 45.9,514.6 45.5,513.6 45.1,512.6 44.6,511.5 44.1,510.5 43.6,509.5 43.1,508.4 42.6,507.4 42.1,506.3 41.6,505.3 41.1,504.3 40.7,503.3 40.2,502.4 39.8,501.4 39.4,500.4 39.0,499.5 38.6,498.6 38.2,497.7 37.9,496.9 37.6,496.0 37.3,495.2 37.1,494.3 36.8,493.4 36.6,492.4 36.4,491.4 36.3,490.2 36.1,489.0 35.9,487.8 35.8,486.6 35.7,485.3 35.5,484.0 35.4,482.8 35.3,481.6 35.3,480.4 35.2,479.3 35.2,478.2 35.1,477.1 35.1,476.0 35.2,474.9 35.2,473.8 35.2,472.7 35.3,471.6 35.3,470.4 35.4,469.2 35.5,468.0 35.6,466.8 35.7,465.5 35.8,464.2 35.9,463.0 36.0,461.7 36.2,460.4 36.3,459.1 36.5,457.9 36.6,456.6 36.8,455.4 37.0,454.2 37.1,453.0 37.3,451.8 37.5,450.6 37.7,449.5 37.8,448.4 38.1,447.4 38.3,446.5 38.5,445.5 38.7,444.7 39.0,443.8 39.2,442.9 39.5,442.1 39.8,441.3 40.1,440.5 40.4,439.8 40.7,439.0 41.0,438.3 41.3,437.7 41.5,437.2 41.8,436.7 42.1,436.2 42.3,435.7 42.7,435.2 43.0,434.6 43.4,434.0 43.7,433.4 44.1,432.7 34.9,427.3 34.6,427.8 34.2,428.3 33.9,428.8 33.5,429.3 33.1,429.9 32.7,430.6 32.3,431.3 31.9,432.0 31.4,432.8 31.0,433.7 30.6,434.5 30.2,435.4 29.8,436.2 29.4,437.2 29.0,438.1 28.6,439.1 28.2,440.2 27.8,441.3 27.5,442.4 27.1,443.5 26.8,444.7 26.5,446.0 26.2,447.2 25.9,448.5 25.7,449.7 25.4,451.0 25.2,452.3 25.0,453.6 24.7,454.9 24.5,456.1 24.3,457.4 24.1,458.7 23.9,460.0 23.7,461.4 23.5,462.8 23.3,464.1 23.1,465.5 22.9,466.9 22.8,468.3 22.7,469.6 22.6,470.9 22.5,472.2 22.5,473.5 22.5,474.7 22.4,476.0 22.4,477.2 22.5,478.5 22.5,479.8 22.6,481.1 22.7,482.4 22.8,483.8 22.9,485.1 23.0,486.6 23.2,488.0 23.3,489.4 23.5,490.9 23.8,492.3 24.1,493.8 24.4,495.2 24.8,496.6 25.2,497.9 25.6,499.2 26.1,500.4 26.6,501.6 27.1,502.7 27.6,503.7 28.2,504.7 28.7,505.7 29.2,506.6 29.8,507.6 30.4,508.7 31.0,509.8 31.7,510.9 32.4,511.9 33.1,513.0 33.8,513.9 34.5,514.9 35.2,515.8 35.8,516.7 36.3,517.4 36.8,518.1 37.3,518.8 37.8,519.6 38.2,520.4 38.7,521.2 39.2,522.0 39.8,522.9 40.5,523.7 41.3,524.6 42.1,525.4 43.1,526.1 44.0,526.7 45.0,527.2 45.9,527.6 46.8,527.9 47.7,528.2 48.5,528.4 49.3,528.7 50.1,528.9 50.9,529.2 51.7,529.5 52.6,529.7 53.5,529.9 54.4,530.1 55.2,530.3 56.1,530.5 56.9,530.6 57.7,530.8 58.5,530.9 59.3,531.1Z"/></clipPath><g clip-path="url(#ac6)"><circle cx="31" cy="482" r="1.6" fill="#23477d"/><circle cx="33" cy="500" r="1.2" fill="#23477d"/></g>
<path d="M40,429 L16,439" stroke="#3a69a1" stroke-width="9.5" stroke-linecap="round" fill="none"/>
<path d="M40,429 L53.5,457.5" stroke="#3a69a1" stroke-width="9.5" stroke-linecap="round" fill="none"/>
<path d="M40.0,353.9 39.3,352.9 38.6,351.8 37.8,350.7 37.1,349.7 36.3,348.6 35.6,347.6 34.9,346.6 34.2,345.6 33.6,344.8 33.1,343.9 32.5,343.1 32.1,342.5 31.7,341.9 31.4,341.5 31.1,341.1 30.9,340.8 30.7,340.4 30.5,339.9 30.2,339.3 29.8,338.5 29.4,337.5 29.0,336.3 28.5,334.9 28.1,333.5 27.7,331.9 27.4,330.4 27.0,328.9 26.7,327.4 26.5,326.0 26.3,324.8 26.1,323.6 25.9,322.5 25.8,321.6 25.6,320.7 25.6,319.8 25.5,319.0 25.5,318.1 25.5,317.3 25.5,316.3 25.6,315.2 25.7,314.1 25.9,312.8 26.1,311.4 26.3,310.0 26.6,308.5 26.8,307.0 27.2,305.6 27.5,304.2 27.9,302.9 28.2,301.6 28.6,300.5 28.9,299.3 29.3,298.3 29.7,297.3 30.2,296.3 30.6,295.3 31.1,294.3 31.7,293.3 32.3,292.2 33.0,291.1 33.7,289.9 34.6,288.7 35.5,287.4 36.5,286.0 37.5,284.7 38.6,283.3 39.6,282.0 40.5,280.8 41.4,279.8 42.2,278.9 42.8,278.2 43.3,277.7 43.7,277.3 44.0,277.0 44.4,276.8 44.8,276.5 45.3,276.1 46.0,275.7 46.8,275.2 47.7,274.6 48.6,273.9 49.6,273.3 50.5,272.6 51.6,271.9 52.6,271.2 53.7,270.4 54.7,269.7 55.8,269.1 56.8,268.4 57.8,267.8 58.8,267.3 59.9,266.7 60.9,266.1 61.9,265.6 63.0,265.0 64.0,264.5 65.1,264.0 66.1,263.6 67.1,263.1 68.1,262.7 69.1,262.3 70.2,261.9 71.2,261.5 72.3,261.2 73.4,260.8 74.4,260.5 75.4,260.2 76.4,259.9 77.4,259.7 78.3,259.5 79.0,259.3 79.7,259.2 80.4,259.1 81.0,259.0 81.7,258.9 82.4,258.9 83.1,258.8 83.9,258.7 84.8,258.7 85.6,258.6 84.4,247.4 83.6,247.5 83.0,247.6 82.2,247.6 81.5,247.7 80.7,247.8 79.8,247.9 78.9,248.0 77.9,248.1 76.8,248.3 75.7,248.5 74.6,248.8 73.5,249.1 72.4,249.4 71.2,249.8 70.0,250.1 68.8,250.5 67.6,250.9 66.3,251.4 65.1,251.8 63.9,252.3 62.7,252.8 61.5,253.3 60.3,253.9 59.1,254.4 58.0,255.0 56.8,255.6 55.6,256.2 54.5,256.9 53.3,257.5 52.2,258.2 51.0,258.9 49.8,259.6 48.6,260.4 47.5,261.1 46.3,261.9 45.2,262.7 44.1,263.4 43.1,264.1 42.2,264.8 41.3,265.4 40.6,265.9 40.0,266.3 39.4,266.6 38.8,267.0 38.1,267.5 37.3,268.0 36.5,268.6 35.6,269.4 34.7,270.2 33.8,271.1 32.8,272.2 31.8,273.4 30.6,274.7 29.5,276.0 28.3,277.5 27.2,279.0 26.0,280.5 25.0,282.0 23.9,283.5 23.0,284.9 22.2,286.3 21.5,287.6 20.8,288.9 20.1,290.2 19.5,291.5 18.9,292.8 18.4,294.1 17.9,295.5 17.4,296.9 17.0,298.4 16.6,299.9 16.2,301.6 15.9,303.2 15.6,304.9 15.3,306.6 15.1,308.3 14.9,310.0 14.7,311.7 14.6,313.2 14.6,314.8 14.6,316.2 14.7,317.6 14.8,318.8 14.9,320.1 15.1,321.3 15.4,322.5 15.6,323.7 15.9,324.8 16.3,326.0 16.7,327.2 17.2,328.6 17.8,330.1 18.4,331.6 19.1,333.2 19.8,334.7 20.5,336.2 21.1,337.7 21.7,339.1 22.3,340.4 22.8,341.5 23.2,342.5 23.7,343.4 24.1,344.1 24.5,344.8 24.9,345.4 25.3,345.9 25.7,346.4 26.1,346.9 26.5,347.4 26.9,348.1 27.5,348.9 28.1,349.8 28.8,350.8 29.5,351.8 30.3,352.9 31.0,353.9 31.8,355.0 32.5,356.1 33.3,357.1 34.0,358.1Z" fill="url(#g8)"/>
<path d="M87,253 L56,238.5" stroke="url(#g8)" stroke-width="9.5" stroke-linecap="round" fill="none"/>
<path d="M87,253 L70.6,279.5" stroke="url(#g8)" stroke-width="9.5" stroke-linecap="round" fill="none"/>
<!--/ARROWS-->
<path d="M734,676 L731.5,686" stroke="#2b5ca2" stroke-width="3.2" stroke-linecap="round"/>

</svg>
<div id="title">Ciclo de vida<br>del caso</div>

<div class="box b1" style="left:302px;top:25px"><div class="txt"><div><span class="l" style="letter-spacing:0.45px;position:relative;left:0.0px">Recepción del caso y</span><br><span class="l" style="letter-spacing:0.92px;position:relative;left:0.0px">revisión inicial</span></div></div></div>
<div class="box b2" style="left:512px;top:191px"><svg class="bg" width="241" height="70"><circle cx="150" cy="66" r="6" fill="#2f7a62"/></svg><div class="txt"><div><span class="l" style="letter-spacing:0.54px;position:relative;left:0.0px">Evaluación y</span><br><span class="l" style="letter-spacing:0.75px;position:relative;left:0.0px">priorización del caso</span></div></div></div>
<div class="box b3" style="left:578px;top:357px"><svg class="bg" width="241" height="70"><circle cx="4" cy="31.5" r="11" fill="#2d569e"/><circle cx="50.4" cy="58.5" r="6.8" fill="#2f5c9e"/><circle cx="49.8" cy="36" r="5" fill="#2f7a6a"/><circle cx="113" cy="4" r="2.8" fill="#2d569e"/><circle cx="76" cy="67" r="3.5" fill="#3b7a6a"/><circle cx="180" cy="27" r="1.2" fill="#2f6f80"/><circle cx="178" cy="53" r="1.5" fill="#2f6f80"/></svg><div class="txt"><div><span class="l" style="letter-spacing:0.76px;position:relative;left:0.8px">Asignación del</span><br><span class="l" style="letter-spacing:0.15px;position:relative;left:0.1px">caso y</span><br><span class="l" style="letter-spacing:1.00px;position:relative;left:0.0px">planificación</span></div></div></div>
<div class="box b4" style="left:547px;top:523px"><svg class="bg" width="241" height="70"><ellipse cx="13" cy="0" rx="11" ry="4.5" fill="#2a5540"/><ellipse cx="74" cy="0" rx="12" ry="4" fill="#245158"/><circle cx="236" cy="40" r="1.8" fill="#2f7a70"/></svg><div class="txt"><div><span class="l" style="letter-spacing:0.69px;position:relative;left:0.2px">Comunicación con el</span><br><span class="l" style="letter-spacing:0.83px;position:relative;left:0.2px">denunciante y</span><br><span class="l" style="letter-spacing:0.82px;position:relative;left:0.2px">actualizaciones</span></div></div></div>
<div class="box b5" style="left:480px;top:689px"><svg class="bg" width="241" height="70"><ellipse cx="49.5" cy="10" rx="26.5" ry="29.5" fill="#47813f"/><ellipse cx="49.5" cy="9" rx="20" ry="23" fill="#3f7a3a" opacity=".5"/><ellipse cx="218" cy="45" rx="26.5" ry="33" fill="#2c55a5" stroke="#264d98" stroke-width="1.6" stroke-dasharray="2 1.5"/><ellipse cx="220" cy="46" rx="17" ry="22" fill="#3160ad" opacity=".45"/><path d="M208,14 L207.8,0 H213.6 L213,14 Z" fill="#2a52a0"/><path d="M225,14 L226,2 L228.6,2.3 L228,14 Z" fill="#2a52a0"/><path d="M194,57 L183.8,64.2" stroke="#2a52a0" stroke-width="2" stroke-linecap="round"/></svg><div class="txt"><div><span class="l" style="letter-spacing:0.68px;position:relative;left:-0.2px">Recopilación de</span><br><span class="l" style="letter-spacing:0.47px;position:relative;left:0.8px">evidencia y</span><br><span class="l" style="letter-spacing:1.04px;position:relative;left:0.8px">documentación</span></div></div></div>
<div class="box b6" style="left:125px;top:689px"><svg class="bg" width="241" height="70"><defs><filter id="sb2" x="-50%" y="-50%" width="200%" height="200%"><feGaussianBlur stdDeviation="0.8"/></filter></defs><g fill="#175f55" filter="url(#sb2)"><circle cx="65.3" cy="9.4" r="4.5"/><circle cx="104" cy="5" r="6"/><circle cx="125.3" cy="23.5" r="13" opacity=".85"/><circle cx="156" cy="4" r="6"/><circle cx="170" cy="5" r="5.5"/><circle cx="152.6" cy="34" r="4" opacity=".5"/><circle cx="52" cy="67" r="5"/><circle cx="172" cy="60" r="1.5"/><circle cx="233" cy="28" r="1.5"/></g></svg><div class="txt"><div><span class="l" style="letter-spacing:0.53px;position:relative;left:-0.3px">Revisión del caso y</span><br><span class="l" style="letter-spacing:0.68px;position:relative;left:1.0px">toma de decisiones</span></div></div></div>
<div class="box b7" style="left:58px;top:523px"><svg class="bg" width="241" height="70"><defs><filter id="sb1" x="-20%" y="-20%" width="140%" height="140%"><feGaussianBlur stdDeviation="1.2"/></filter></defs><ellipse cx="184" cy="13" rx="30" ry="28" fill="#2a5f7a" opacity=".6" filter="url(#sb1)"/><ellipse cx="184" cy="12" rx="28" ry="26.5" fill="#1d5055" filter="url(#sb1)"/><circle cx="24" cy="17" r="8" fill="#213f80"/><circle cx="100" cy="58" r="4" fill="#2a4f86"/><circle cx="155" cy="57" r="4" fill="#2a4f86" opacity=".7"/><circle cx="210" cy="55" r="3" fill="#2a4f86" opacity=".7"/></svg><div class="txt"><div><span class="l" style="letter-spacing:0.55px;position:relative;left:-0.2px">Resolución del caso y</span><br><span class="l" style="letter-spacing:0.64px;position:relative;left:0.8px">acciones correctivas</span></div></div></div>
<div class="box b8" style="left:25px;top:357px"><svg class="bg" width="241" height="70"><circle cx="34" cy="49" r="3.8" fill="#1a3e78"/><circle cx="68" cy="12" r="5" fill="#2e6a50"/></svg><div class="txt"><div><span class="l" style="letter-spacing:0.56px;position:relative;left:-0.2px">Cierre del caso y</span><br><span class="l" style="letter-spacing:1.09px;position:relative;left:-0.2px">seguimiento</span></div></div></div>
<div class="box b9" style="left:92px;top:191px"><div class="txt"><div><span class="l" style="letter-spacing:0.67px;position:relative;left:0.8px">Análisis e insights de</span><br><span class="l" style="letter-spacing:0.75px;position:relative;left:0.0px">las investigaciones</span></div></div></div>

<svg class="ov" width="850" height="802" viewBox="0 0 850 802" style="pointer-events:none">
<defs>
<filter id="grain" x="0" y="0" width="850" height="802" filterUnits="userSpaceOnUse">
<feTurbulence type="fractalNoise" baseFrequency="0.75" numOctaves="2" seed="7" result="n"/>
<feColorMatrix in="n" type="matrix" values="0 0 0 0 0  0 0 0 0 0.05  0 0 0 0 0.08  2.2 0 0 0 -1.0"/>
</filter>
<filter id="mottle" x="0" y="0" width="850" height="802" filterUnits="userSpaceOnUse">
<feTurbulence type="fractalNoise" baseFrequency="0.06" numOctaves="3" seed="11" result="m"/>
<feColorMatrix in="m" type="matrix" values="0 0 0 0 1  0 0 0 0 1  0 0 0 0 1  0 1.6 0 0 -0.75"/>
</filter>
<clipPath id="boxclip"><rect x="302" y="25" width="241" height="70" rx="8.5"/><rect x="512" y="191" width="241" height="70" rx="8.5"/><rect x="578" y="357" width="241" height="70" rx="8.5"/><rect x="547" y="523" width="241" height="70" rx="8.5"/><rect x="480" y="689" width="241" height="70" rx="8.5"/><rect x="125" y="689" width="241" height="70" rx="8.5"/><rect x="58" y="523" width="241" height="70" rx="8.5"/><rect x="25" y="357" width="241" height="70" rx="8.5"/><rect x="92" y="191" width="241" height="70" rx="8.5"/></clipPath>
</defs>
<g clip-path="url(#boxclip)">
<rect width="850" height="802" filter="url(#mottle)" opacity="0.10"/>
<rect width="850" height="802" filter="url(#grain)" opacity="0.22"/>
</g>
</svg>
<svg class="ov" width="850" height="802" viewBox="0 0 850 802" style="z-index:5">
<g opacity="0.9" fill="none" stroke="#fff" stroke-width="1.6" stroke-linecap="round" stroke-linejoin="round">
<!-- 1 envelope -->
<path d="M319,60 V43.8 Q319,42.6 320.2,42.6 H349.3 Q350.5,42.6 350.5,43.8 V60"/>
<path d="M324.2,48.6 H343.8 M326.2,53.4 H342.6 M325.3,58.1 H343.8"/>
<path d="M319,57 L316.6,58.8 Q315.6,59.6 315.6,61 V78.4 Q315.6,79.8 317,79.8 H352.1 Q353.5,79.8 353.5,78.4 V61 Q353.5,59.6 352.5,58.8 L350.5,57"/>
<path d="M316.2,60.4 L332.6,71.6 Q334.5,72.8 336.4,71.6 L353,60.4"/>
<path d="M316.8,78.6 L328.2,69.8 M352.2,78.6 L340.6,69.8"/>
<!-- 2 squares + arc -->
<g stroke-width="1.9">
<rect x="526.3" y="205.4" width="10.6" height="9.6"/>
<rect x="526.3" y="222.2" width="10.6" height="8.8"/>
<rect x="526.3" y="238.6" width="10.6" height="9.8"/>
</g>
<path d="M544.4,207 A16.3,16.3 0 0 1 545,239.9" stroke-width="1.8"/>
<path d="M548.6,234.6 L544.2,240 L549,245" stroke-width="1.8"/>
<!-- 3 people + hand -->
<circle cx="600.2" cy="373.2" r="3.9"/>
<circle cx="615" cy="373.2" r="3.9"/>
<path d="M593,387.4 Q592.6,378.2 600,378 Q607.4,378.2 607.2,387.4 Z"/>
<path d="M607.2,387.4 Q607.4,378.2 615,378 Q621.6,378.2 622.4,384"/>
<path d="M607.2,387.4 H619.6"/>
<path d="M620.6,394.5 V385.8 Q620.6,384 622.5,384 Q624.4,384 624.4,385.8 V395.2 L630.8,395.6 Q633,396 633,398.4 V407.5 Q633,409.5 630.6,411.8 V415.4 H617 V411.8 Q614.6,409.5 614.6,407 V396.6 Q614.6,394.3 617.6,394.3 Q620.6,394.3 620.6,396.6 V401"/>
<!-- 4 bubbles -->
<path d="M561,537.1 H588.7 Q590.7,537.1 590.7,539.1 V557.1 Q590.7,559.1 588.7,559.1 H570.4 L565.4,564.6 L563.8,559.1 H561 Q559,559.1 559,557.1 V539.1 Q559,537.1 561,537.1 Z" stroke-width="1.8"/>
<path d="M565.1,542.8 H584.3 M565.1,547.8 H584.3 M565.1,552.9 H575.7" stroke-width="1.8"/>
<path d="M590.7,552 H600.7 Q602.7,552 602.7,554 V571.7 Q602.7,573.7 600.7,573.7 H596.4 L595.6,579.8 L588.5,573.7 H572.4 Q570.4,573.7 570.4,571.7 V561" stroke-width="1.8"/>
<!-- 5 fingerprint magnifier -->
<circle cx="506.3" cy="719.5" r="16.9" stroke-width="1.7"/>
<circle cx="506.3" cy="719.5" r="13.9" stroke-width="1.5"/>
<path d="M518.6,731.8 L521,734.2" stroke-width="1.6"/>
<path d="M520.3,735.8 L524.2,731.9 L533.2,740.9 Q534.6,744.8 531.8,746.2 Q528.6,747.2 526.8,744.2 Z" stroke-width="1.6"/>
<g stroke-width="1.3">
<path d="M499.5,724 Q498.5,718 501,714.5 Q504,711 508,711.5 Q512.5,712.3 513.6,717.5 Q514.2,722 513,727"/>
<path d="M502.3,727 Q501.5,722 502.6,718.2 Q504.5,714.3 508,715 Q511,716 511,720 Q511,725 509.5,729.5"/>
<path d="M505.8,729.5 Q506.8,725 506.8,721 Q506.8,718.5 507.8,718.5 Q508.5,719 508.5,722 Q508.3,727 506.8,731"/>
<path d="M498,713 Q502,707 508.5,708 Q514,709 516,714"/>
<path d="M516.3,718 Q516.5,723 515.5,727"/>
</g>
<!-- 6 check/x + hand -->
<circle cx="143.3" cy="709.7" r="7.7"/>
<path d="M139.7,710 L142.3,712.4 L147.2,707.6"/>
<circle cx="169.9" cy="709.7" r="7.7"/>
<path d="M167.5,707.4 L172.3,712 M172.3,707.4 L167.5,712"/>
<path d="M155.6,734 V717 Q155.6,715.3 156.9,715.3 Q158.2,715.3 158.2,717 V728"/>
<path d="M158.2,728 Q158.2,725.6 160,725.6 Q161.7,725.6 161.7,728 V730.5 M161.7,728.5 Q161.7,726.7 163.4,726.7 Q165.1,726.7 165.1,728.5 V731 M165.1,729.5 Q165.1,727.8 166.9,727.8 Q168.6,727.8 168.6,729.5 V731.5 M168.6,730.5 Q168.6,728.6 170.8,728.6 Q172.9,728.6 172.9,731 V738.5 Q172.9,745.6 166.5,745.6 H160.5 Q157.5,745.6 155,742.8 L148.3,735.6 Q146.6,733.6 148.4,732.3 Q150.3,731.1 152.2,732.8 L155.6,736"/>
<!-- 7 bulb + handshake -->
<path d="M85.8,556.4 V553.6 Q81.3,550.4 81.3,545.4 Q81.3,537.4 89.4,537.4 Q97.5,537.4 97.5,545.4 Q97.5,550.4 93.1,553.6 V556.4 Z" stroke-width="1.5"/>
<path d="M85.6,558.4 H93.3 M86.4,560.3 H92.5" stroke-width="1.4"/>
<path d="M86.3,545.1 L89.4,547.6 L92.5,545.1 M89.4,547.6 V553.4" stroke-width="1.3"/>
<path d="M67.1,561.9 L74.7,551.9 L79.1,555 L71.6,565 Z" stroke-width="1.5"/>
<path d="M100.1,552.6 L104.9,550.9 L111.7,561.5 L107.3,565 Z" stroke-width="1.5"/>
<path d="M78.8,556.2 L85.5,560.2" stroke-width="1.4"/>
<path d="M100.8,555.6 L88.2,561.2 Q85,562.9 86.7,565 Q88.2,566.3 91,564.6 L95.4,562.2 L104.6,568.6 Q106.1,570.9 103.8,571.7 Q102.5,572.1 101.2,571.1 L96.8,567.8 M101.5,571.3 Q101.8,574.1 99.4,574.7 Q98,574.9 97,573.9 L93.3,571 M97.2,574.1 Q97,576.7 94.6,576.9 L91.2,574.5" stroke-width="1.4"/>
<g stroke-width="1.4">
<rect x="-4.6" y="-1.7" width="9.2" height="3.4" rx="1.7" transform="translate(78.6,568.2) rotate(45)"/>
<rect x="-4.6" y="-1.7" width="9.2" height="3.4" rx="1.7" transform="translate(82.2,570.6) rotate(45)"/>
<rect x="-4.6" y="-1.7" width="9.2" height="3.4" rx="1.7" transform="translate(85.8,573) rotate(45)"/>
<rect x="-3.8" y="-1.7" width="7.6" height="3.4" rx="1.7" transform="translate(89.6,575.2) rotate(45)"/>
</g>
<!-- 8 checklist + magnifier -->
<circle cx="44.6" cy="376.6" r="5.4"/>
<circle cx="44.6" cy="392.7" r="5.4"/>
<circle cx="44.6" cy="409.3" r="5.4"/>
<path d="M44.6,382 V387.3 M44.6,398.1 V403.9"/>
<path d="M41.6,376.9 L43.6,378.6 L47.4,374.9 M41.6,393 L43.6,394.7 L47.4,391"/>
<circle cx="61.4" cy="384.8" r="10"/>
<path d="M66.6,393.4 L68.2,396"/>
<path d="M67,397.4 L69.6,395.4 L76.4,405.4 Q77.3,407.9 75.4,408.6 Q73.5,409.2 72.4,407.3 Z" stroke-width="1.5"/>
<!-- 9 chart -->
<g stroke-width="1.8">
<rect x="106.2" y="235" width="6.4" height="8.7"/>
<rect x="118" y="225" width="6" height="18.7"/>
<rect x="129.2" y="230.1" width="6.1" height="13.6"/>
<rect x="140.9" y="216.2" width="6.4" height="27.5"/>
<circle cx="109.1" cy="225.6" r="4"/>
<circle cx="120.8" cy="214.5" r="4"/>
<circle cx="132.4" cy="221.3" r="4"/>
<circle cx="144.1" cy="206.1" r="4.4"/>
<path d="M112,222.8 L117.9,217.3 M124.3,216.6 L128.9,219.2 M134.9,218.1 L141.3,209.6"/>
</g>
</g>
<g fill="#fff" opacity="0.9"><circle cx="42" cy="409.3" r="0.9"/><circle cx="44.6" cy="409.3" r="0.9"/><circle cx="47.2" cy="409.3" r="0.9"/></g>
</svg>
</body></html>
